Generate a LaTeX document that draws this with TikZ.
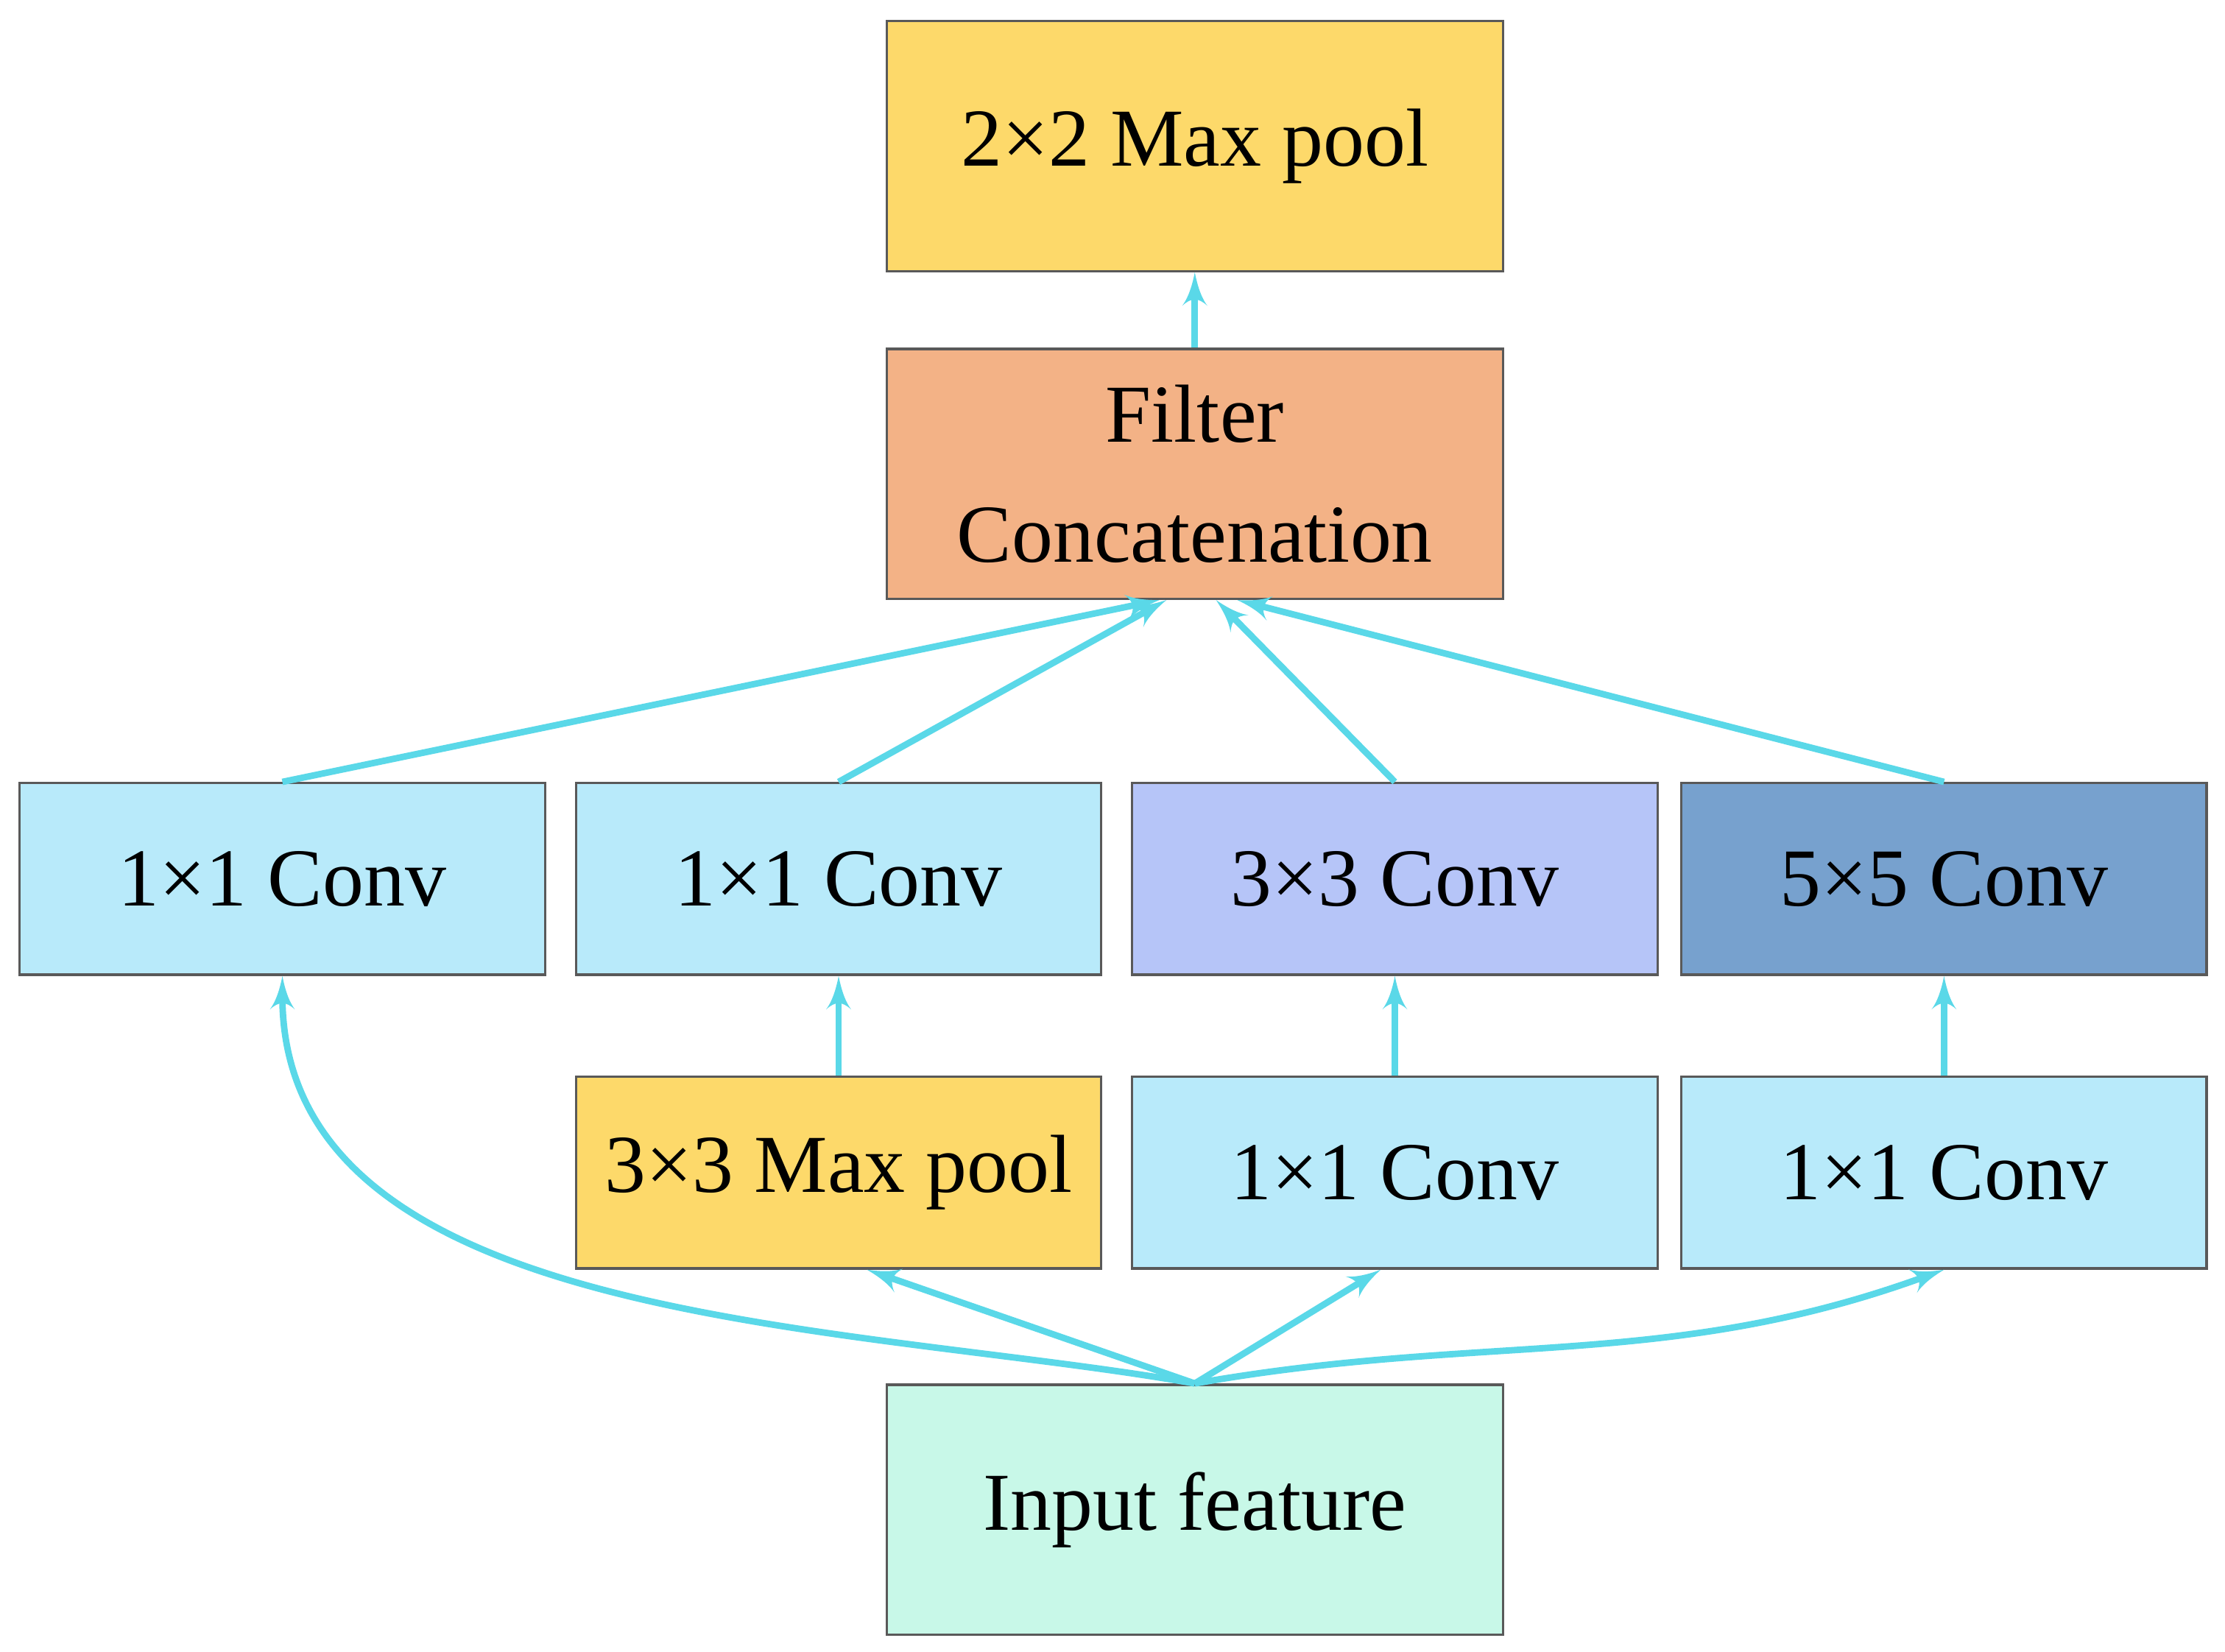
\documentclass[tikz,border=0pt]{standalone}
\usepackage{fontspec}
\setmainfont{Liberation Serif}
\usetikzlibrary{arrows}
\definecolor{poolcol}{HTML}{FDD96A}
\definecolor{catcol}{HTML}{F3B286}
\definecolor{convcol}{HTML}{B8EAFA}
\definecolor{midcol}{HTML}{B6C5F8}
\definecolor{bigcol}{HTML}{77A1CE}
\definecolor{incol}{HTML}{C8F8E8}
\definecolor{edgecol}{HTML}{5AD8E8}
\begin{document}
\begin{tikzpicture}[x=0.01cm,y=-0.01cm,->,>=latex',line width=1.3pt,
                    every edge/.style={draw=edgecol,line width=1.3pt},
                    block/.style={rectangle,draw=black!65,line width=0.5pt,align=center,font=\fontsize{16.5}{21}\selectfont,inner sep=0pt},
                    wide node/.style={block,minimum width=4.34cm,minimum height=1.76cm},
                    small node/.style={block,minimum width=3.7cm,minimum height=1.35cm}]
  \useasboundingbox (0,0) rectangle (1568,1164);
  \node[wide node,fill=poolcol] (pool) at (842,103) {2×2 Max pool};
  \node[wide node,fill=catcol] (cat) at (842,334) {Filter\\[3pt]Concatenation};
  \node[small node,fill=convcol] (a1) at (199,619.5) {1×1 Conv};
  \node[small node,fill=convcol] (b1) at (591,619.5) {1×1 Conv};
  \node[small node,fill=midcol] (c1) at (983,619.5) {3×3 Conv};
  \node[small node,fill=bigcol] (d1) at (1370,619.5) {5×5 Conv};
  \node[small node,fill=poolcol] (b2) at (591,826.5) {3×3 Max pool};
  \node[small node,fill=convcol] (c2) at (983,826.5) {1×1 Conv};
  \node[small node,fill=convcol] (d2) at (1370,826.5) {1×1 Conv};
  \node[wide node,fill=incol] (in) at (842,1064) {Input feature};

  \path
    (cat) edge (pool)
    (a1.north) edge ([xshift=-0.25cm]cat.south)
    (b1.north) edge ([xshift=-0.2cm]cat.south)
    (c1.north) edge ([xshift=0.15cm]cat.south)
    (d1.north) edge ([xshift=0.3cm]cat.south)
    (b2) edge (b1)
    (c2) edge (c1)
    (d2) edge (d1)
    (in.north) edge ([xshift=0.2cm]b2.south)
    (in.north) edge ([xshift=-0.1cm]c2.south)
    (in.north) edge[out=170,in=270,looseness=0.9] (a1.south)
    (in.north) edge[out=10,in=200] (d2.south)
    ;
\end{tikzpicture}
\end{document}
